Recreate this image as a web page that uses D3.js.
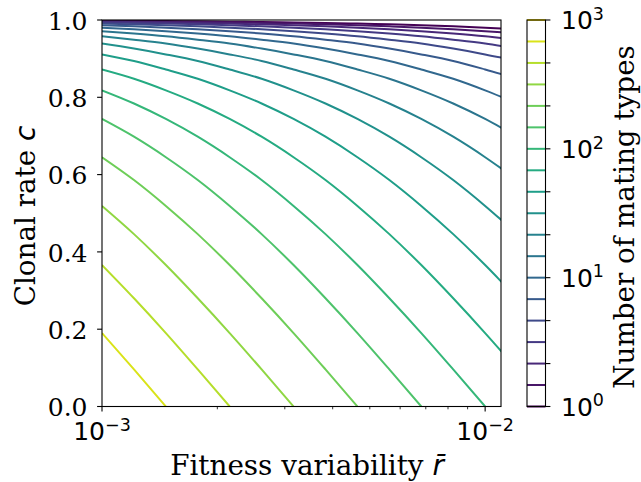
<!DOCTYPE html>
<html>
<head>
<meta charset="utf-8">
<script src="https://cdn.jsdelivr.net/npm/d3@7"></script>
<style>
  html, body { margin: 0; padding: 0; background: #fff; }
  svg { display: block; }
</style>
</head>
<body>
<svg id="chart" width="641" height="482"></svg>
<script>
// ---------- data ----------
// contour levels: number of mating types (log spaced, 6 per decade)
const levels = [1, 1.468, 2.154, 3.162, 4.642, 6.813, 10, 14.68, 21.54, 31.62,
                46.42, 68.13, 100, 146.8, 215.4, 316.2, 464.2, 681.3, 1000];

// sample positions along the fitness-variability axis
const rGrid = [1.000e-3, 1.212e-3, 1.468e-3, 1.778e-3, 2.154e-3, 2.610e-3, 3.162e-3,
               3.831e-3, 4.642e-3, 5.623e-3, 6.813e-3, 8.254e-3, 1.000e-2, 1.212e-2];

// clonal rate c of each contour line at the rGrid positions (one row per level)
const clonalRate = [
  [0.9980,0.9976,0.9971,0.9965,0.9957,0.9948,0.9937,0.9924,0.9908,0.9888,0.9865,0.9836,0.9802,0.9761],
  [0.9971,0.9965,0.9957,0.9948,0.9937,0.9924,0.9908,0.9888,0.9865,0.9836,0.9802,0.9761,0.9711,0.9651],
  [0.9957,0.9948,0.9937,0.9924,0.9908,0.9888,0.9865,0.9836,0.9802,0.9761,0.9711,0.9651,0.958,0.949],
  [0.9937,0.9924,0.9908,0.9888,0.9865,0.9836,0.9802,0.9761,0.9711,0.9651,0.958,0.949,0.939,0.926],
  [0.9908,0.9888,0.9865,0.9836,0.9802,0.9761,0.9711,0.9651,0.958,0.949,0.939,0.926,0.911,0.894],
  [0.9865,0.9836,0.9802,0.9761,0.9711,0.9651,0.958,0.949,0.939,0.926,0.911,0.894,0.872,0.848],
  [0.9802,0.9761,0.9711,0.9651,0.958,0.949,0.939,0.926,0.911,0.894,0.872,0.848,0.818,0.784],
  [0.9711,0.9651,0.958,0.949,0.939,0.926,0.911,0.894,0.872,0.848,0.818,0.784,0.744,0.698],
  [0.958,0.949,0.939,0.926,0.911,0.894,0.872,0.848,0.818,0.784,0.744,0.698,0.645,0.586],
  [0.939,0.926,0.911,0.894,0.872,0.848,0.818,0.784,0.744,0.698,0.645,0.586,0.519,0.446],
  [0.911,0.894,0.872,0.848,0.818,0.784,0.744,0.698,0.645,0.586,0.519,0.446,0.366,0.280],
  [0.872,0.848,0.818,0.784,0.744,0.698,0.645,0.586,0.519,0.446,0.366,0.280,0.190,0.096],
  [0.818,0.784,0.744,0.698,0.645,0.586,0.519,0.446,0.366,0.280,0.190,0.096,0],
  [0.744,0.698,0.645,0.586,0.519,0.446,0.366,0.280,0.190,0.096,0],
  [0.645,0.586,0.519,0.446,0.366,0.280,0.190,0.096,0],
  [0.519,0.446,0.366,0.280,0.190,0.096,0],
  [0.366,0.280,0.190,0.096,0],
  [0.190,0.096,0],
  [0]
];

// axis ticks
const xMajorTicks = [1e-3, 1e-2];
const xMajorExp = ["−3", "−2"];
const xMinorTicks = [2e-3, 3e-3, 4e-3, 5e-3, 6e-3, 7e-3, 8e-3, 9e-3];
const yTicks = [0, 0.2, 0.4, 0.6, 0.8, 1.0];
const cbTicks = [1, 2.154, 4.642, 10, 21.54, 46.42, 100, 215.4, 464.2, 1000];
const cbLabelTicks = [1, 10, 100, 1000];
const cbLabelExp = ["0", "1", "2", "3"];

// ---------- layout ----------
const svg = d3.select("#chart");
const L = 102, R = 501, T = 20, B = 406.5;
const cbL = 527, cbR = 545.5;
const serif = "DejaVu Serif";
const sans = "DejaVu Sans";
const fs = 25;      // tick labels
const fsTitle = 27.8; // axis titles

const x = d3.scaleLog().domain([1e-3, 0.011]).range([L, R]);
const y = d3.scaleLinear().domain([0, 1]).range([B, T]);
const yc = d3.scaleLog().domain([1, 1000]).range([B, T]);
const color = k => d3.interpolateViridis(k / (levels.length - 1));

svg.append("defs").append("clipPath").attr("id", "plotclip")
  .append("rect").attr("x", L).attr("y", T).attr("width", R - L).attr("height", B - T);

// contour lines
const line = d3.line().x(d => d[0]).y(d => d[1]).curve(d3.curveMonotoneX);
const gLines = svg.append("g").attr("clip-path", "url(#plotclip)");
clonalRate.forEach((row, k) => {
  if (row.length < 2) return;
  const pts = row.map((c, j) => [x(rGrid[j]), y(c)]);
  gLines.append("path").attr("d", line(pts))
    .attr("fill", "none").attr("stroke", color(k))
    .attr("stroke-width", 2).attr("stroke-linecap", "butt");
});

// frame
svg.append("rect").attr("x", L).attr("y", T).attr("width", R - L).attr("height", B - T)
  .attr("fill", "none").attr("stroke", "#000").attr("stroke-width", 1.1);

// math label helper: 10^exp
function mathLabel(g, xPos, yBase, exp, anchor) {
  const t = g.append("text").attr("x", xPos).attr("y", yBase)
    .attr("font-family", sans).attr("font-size", fs).attr("fill", "#000")
    .attr("text-anchor", anchor);
  t.append("tspan").text("10");
  t.append("tspan").attr("font-size", fs * 0.7).attr("dy", -9.5).text(exp);
  return t;
}

// x axis
const xAxis = svg.append("g");
xAxis.selectAll("line.maj").data(xMajorTicks).join("line")
  .attr("x1", d => x(d)).attr("x2", d => x(d)).attr("y1", B).attr("y2", B + 4.9)
  .attr("stroke", "#000").attr("stroke-width", 1.1);
xAxis.selectAll("line.min").data(xMinorTicks).join("line")
  .attr("x1", d => x(d)).attr("x2", d => x(d)).attr("y1", B).attr("y2", B + 2.8)
  .attr("stroke", "#000").attr("stroke-width", 0.8);
xMajorTicks.forEach((d, i) => mathLabel(xAxis, x(d), 440, xMajorExp[i], "middle"));

// y axis
const yAxis = svg.append("g");
yAxis.selectAll("line").data(yTicks).join("line")
  .attr("x1", L - 4.9).attr("x2", L).attr("y1", d => y(d)).attr("y2", d => y(d))
  .attr("stroke", "#000").attr("stroke-width", 1.1);
yAxis.selectAll("text").data(yTicks).join("text")
  .attr("x", L - 14.5).attr("y", d => y(d) + 9.6)
  .attr("text-anchor", "end").attr("font-family", serif).attr("font-size", fs)
  .text(d => d3.format(".1f")(d));

// axis titles
const xt = svg.append("text").attr("x", 307).attr("y", 475)
  .attr("text-anchor", "middle").attr("font-family", serif).attr("font-size", fsTitle);
xt.append("tspan").text("Fitness variability ");
xt.append("tspan").attr("font-family", sans).attr("font-style", "italic").text("r\u0304");

const yt = svg.append("text")
  .attr("transform", `translate(35,216) rotate(-90)`)
  .attr("text-anchor", "middle").attr("font-family", serif).attr("font-size", fsTitle);
yt.append("tspan").text("Clonal rate ");
yt.append("tspan").attr("font-family", sans).attr("font-style", "italic").text("c");

// colorbar
const cb = svg.append("g");
levels.forEach((lv, k) => {
  cb.append("line").attr("x1", cbL).attr("x2", cbR)
    .attr("y1", yc(lv)).attr("y2", yc(lv))
    .attr("stroke", color(k)).attr("stroke-width", 2);
});
cb.append("rect").attr("x", cbL).attr("y", T).attr("width", cbR - cbL).attr("height", B - T)
  .attr("fill", "none").attr("stroke", "#000").attr("stroke-width", 1.1);
cb.selectAll("line.tk").data(cbTicks).join("line")
  .attr("x1", cbR).attr("x2", cbR + 4.9).attr("y1", d => yc(d)).attr("y2", d => yc(d))
  .attr("stroke", "#000").attr("stroke-width", 1.1);
cbLabelTicks.forEach((d, i) => mathLabel(cb, 561, yc(d) + 9.3, cbLabelExp[i], "start"));

svg.append("text")
  .attr("transform", `translate(634,217) rotate(-90)`)
  .attr("text-anchor", "middle").attr("font-family", serif).attr("font-size", fsTitle)
  .text("Number of mating types");
</script>
</body>
</html>
